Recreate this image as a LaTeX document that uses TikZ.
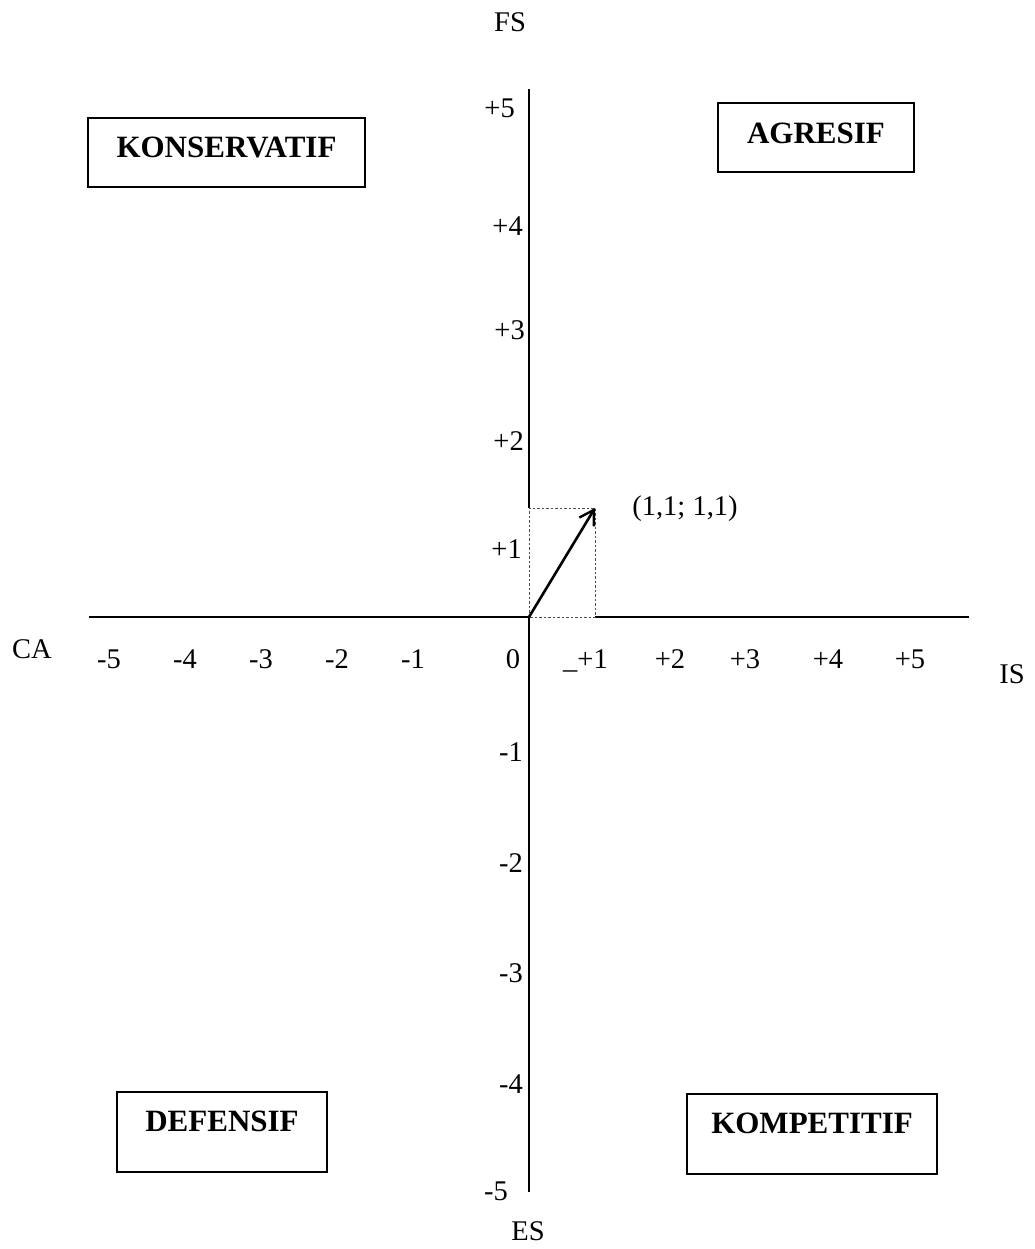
\documentclass[tikz,border=0pt]{standalone}
\usepackage{fontspec}
\setmainfont{Liberation Serif}
\usepackage{tikz}
\usetikzlibrary{positioning,arrows.meta,calc}
\newcommand{\quadname}[1]{{\fontsize{31}{36}\selectfont\bfseries #1}}

\begin{document}
\begin{tikzpicture}[
  x=1pt,y=-1pt,
  font=\fontsize{28.5}{34}\selectfont,
  axis/.style={line width=2pt,black},
  tick/.style={inner sep=0pt,anchor=base},
  ytick/.style={inner sep=0pt,anchor=base east},
  quadbox/.style={draw,line width=1.5pt,inner sep=0pt,text height=20.5pt,
                  text depth=#1},
  guide/.style={line width=1pt,black!70,dash pattern=on 2.5pt off 2pt},
  vector/.style={-{Straight Barb[length=14pt,width=17pt,line width=2.4pt]},
                 line width=2.6pt}]
\useasboundingbox (0,0) rectangle (1034,1249);
% axes
\coordinate (O) at (529,617);
\coordinate (P) at (595,508);
\coordinate (top) at (529,89);
\coordinate (bottom) at (529,1192);
\coordinate (left) at (89,617);
\coordinate (right) at (969,617);
\draw[axis] (top) -- (O |- P);
\draw[axis] (O) -- (bottom);
\draw[axis] (left) -- (O);
\draw[axis] (P |- O) -- (right);
\draw[guide] (O) rectangle (P);
\draw[vector] (O) -- (P);
\node[tick] (pt) at (685,515) {(1,1; 1,1)};
% axis names
\node[tick] (fs) at (510,32) {FS};
\node[tick] (es) at (528,1240) {ES};
\node[tick] (ca) at (32,658) {CA};
\node[tick] (is) at (1012,683) {IS};
% scale
\foreach \val/\xp in {-5/109,-4/185,-3/261,-2/337,-1/413,0/513,+2/670,+3/745,+4/828,+5/910}
  \node[tick] (x\xp) at (\xp,668) {\val};
\node[tick,anchor=base east] (xone) at (608,668) {\_+1};
\foreach \val/\xr/\yb in {+5/515/118,+4/523/236,+3/525/339,+2/524/450,+1/522/558,
                          -1/523/761,-2/523/872,-3/523/982,-4/523/1093,-5/508/1200}
  \node[ytick] (y\yb) at (\xr,\yb) {\val};
% quadrants
\node[quadbox=11pt,minimum width=277,minimum height=69] (kons) at (226.5,152.5) {\quadname{KONSERVATIF}};
\node[quadbox=9pt,minimum width=196,minimum height=69] (agr) at (816,137.5) {\quadname{AGRESIF}};
\node[quadbox=22pt,minimum width=210,minimum height=80] (def) at (222,1132) {\quadname{DEFENSIF}};
\node[quadbox=22pt,minimum width=250,minimum height=80] (komp) at (812,1134) {\quadname{KOMPETITIF}};
\end{tikzpicture}
\end{document}
